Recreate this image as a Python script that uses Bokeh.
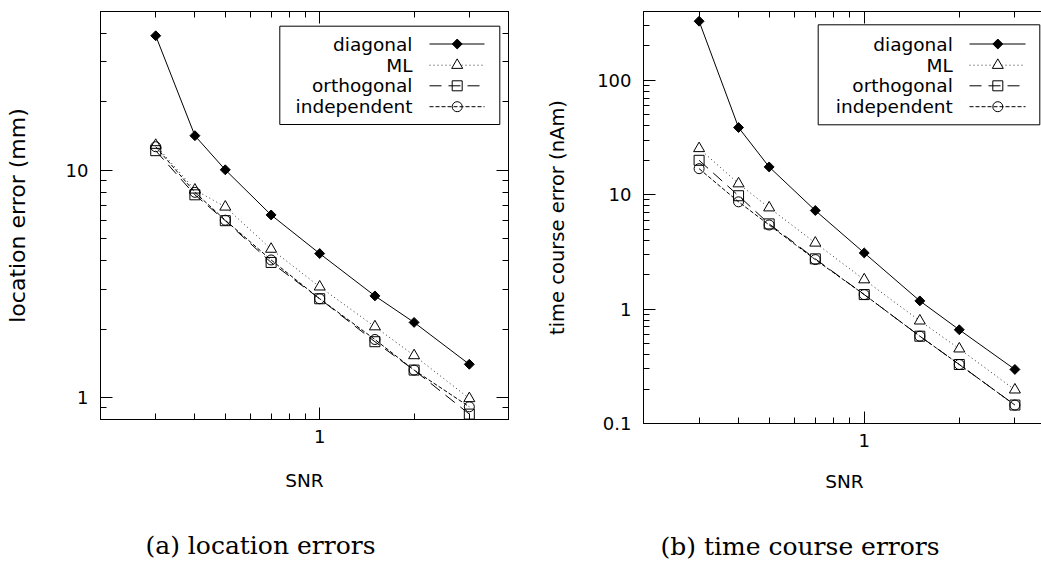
import numpy as np
from bokeh.plotting import figure
from bokeh.layouts import row
from bokeh.models import (FixedTicker, LogAxis, Range1d, LinearScale, Title,
                          CustomJSTickFormatter)
from bokeh.core.properties import value
from bokeh.embed import file_html
from bokeh.resources import INLINE

# ---------------- data ----------------
snr = [0.3, 0.4, 0.5, 0.7, 1.0, 1.5, 2.0, 3.0]
series_names = ["diagonal", "ML", "orthogonal", "independent"]

loc_diagonal = [39.1, 14.2, 10.05, 6.36, 4.30, 2.80, 2.14, 1.40]
loc_ml = [12.9, 8.2, 6.9, 4.5, 3.07, 2.05, 1.53, 0.99]
loc_orthogonal = [12.2, 7.8, 6.0, 3.93, 2.72, 1.76, 1.32, 0.845]
loc_independent = [12.7, 8.0, 6.03, 4.03, 2.72, 1.80, 1.32, 0.91]

tc_diagonal = [329.0, 38.7, 17.5, 7.28, 3.10, 1.18, 0.66, 0.297]
tc_ml = [25.4, 12.5, 7.7, 3.79, 1.81, 0.79, 0.45, 0.197]
tc_orthogonal = [20.0, 9.8, 5.56, 2.75, 1.34, 0.58, 0.328, 0.145]
tc_independent = [16.9, 8.67, 5.44, 2.71, 1.34, 0.58, 0.328, 0.145]

x_major = [1]
x_minor = [0.2, 0.3, 0.4, 0.5, 0.6, 0.7, 0.8, 0.9, 2, 3, 4]
loc_y_major = [1, 10]
loc_y_minor = [0.8, 0.9, 2, 3, 4, 5, 6, 7, 8, 9, 20, 30, 40, 50]
tc_y_major = [0.1, 1, 10, 100]
tc_y_minor = [0.2, 0.3, 0.4, 0.5, 0.6, 0.7, 0.8, 0.9, 2, 3, 4, 5, 6, 7, 8, 9,
              20, 30, 40, 50, 60, 70, 80, 90, 200, 300, 400]

x_label = "SNR"
loc_label = "location error (mm)"
tc_label = "time course error (nAm)"
caption_a = "(a) location errors"
caption_b = "(b) time course errors"

# ---------------- styles ----------------
FONT = "DejaVu Sans"
FS = "18px"
styles = {
    "diagonal": dict(dash="solid", marker="square", angle=np.pi / 4, size=7,
                     fill="black", lcolor="black"),
    "ML": dict(dash="1 3", marker="triangle", angle=0.0, size=11,
               fill="white", lcolor="#333333"),
    "orthogonal": dict(dash="12 7", marker="square", angle=0.0, size=10,
                       fill=None, lcolor="black"),
    "independent": dict(dash="4 2", marker="circle", angle=0.0, size=10,
                        fill=None, lcolor="black"),
}

fmt = CustomJSTickFormatter(code="return String(tick);")


def style_axis(ax):
    ax.axis_line_color = "black"
    ax.axis_line_width = 1
    ax.major_tick_in = 12
    ax.major_tick_out = 0
    ax.minor_tick_in = 6
    ax.minor_tick_out = 0
    ax.major_tick_line_color = "black"
    ax.minor_tick_line_color = "black"
    ax.major_label_text_font = FONT
    ax.major_label_text_color = "black"
    ax.major_label_text_font_size = FS
    ax.axis_label_text_font = FONT
    ax.axis_label_text_font_size = "18.5px"
    ax.axis_label_text_font_style = "normal"
    ax.axis_label_text_color = "black"


def hidden_axis(ticker):
    ax = LogAxis(ticker=ticker,
                 formatter=CustomJSTickFormatter(code="return '';"))
    style_axis(ax)
    ax.major_label_text_font_size = "1px"
    ax.major_label_standoff = 0
    return ax


def make_fig(ys, y_rng, y_major, y_minor, x_end, fw, fh, bl, br, bt, bb,
             ylabel, ylabel_size, y_label_standoff, x_label_standoff, leg,
             caption, cap_offset, cap_standoff, right_axis):
    p = figure(x_axis_type="log", y_axis_type="log",
               x_range=Range1d(0.2, x_end), y_range=Range1d(*y_rng),
               frame_width=fw, frame_height=fh,
               min_border_left=bl, min_border_right=br, min_border_top=bt,
               min_border_bottom=bb,
               output_backend="svg", toolbar_location=None)
    p.grid.visible = False
    p.background_fill_color = "white"
    p.border_fill_color = "white"
    p.outline_line_color = "black" if right_axis else None

    # pixel-like ranges for the hand-made (gnuplot style) key
    p.extra_x_ranges = {"key": Range1d(0, fw)}
    p.extra_y_ranges = {"key": Range1d(0, fh)}
    p.extra_x_scales = {"key": LinearScale()}
    p.extra_y_scales = {"key": LinearScale()}

    xt = FixedTicker(ticks=x_major, minor_ticks=x_minor)
    yt = FixedTicker(ticks=y_major, minor_ticks=y_minor)

    xa = p.xaxis[0]
    xa.ticker = xt
    xa.formatter = fmt
    xa.axis_label = x_label
    style_axis(xa)
    xa.major_label_standoff = 10
    xa.axis_label_standoff = x_label_standoff

    ya = p.yaxis[0]
    ya.ticker = yt
    ya.formatter = fmt
    ya.axis_label = ylabel
    style_axis(ya)
    ya.axis_label_text_font_size = ylabel_size
    ya.major_label_standoff = 12
    ya.axis_label_standoff = y_label_standoff

    p.add_layout(hidden_axis(xt), "above")
    if right_axis:
        p.add_layout(hidden_axis(yt), "right")

    for name, y in zip(series_names, ys):
        st = styles[name]
        p.line(snr, y, line_color=st["lcolor"], line_width=1,
               line_dash=st["dash"])
        p.scatter(snr, y, marker=st["marker"], size=st["size"],
                  angle=st["angle"], line_color="black", line_width=1,
                  fill_color=st["fill"])

    # key box
    p.quad(left=[leg["box"][0]], right=[leg["box"][1]], top=[leg["box"][2]],
           bottom=[leg["box"][3]], fill_color="white", line_color="black",
           line_width=1, x_range_name="key", y_range_name="key")
    for name, ry in zip(series_names, leg["rows"]):
        st = styles[name]
        p.segment(x0=[leg["line"][0]], x1=[leg["line"][1]], y0=[ry], y1=[ry],
                  line_color=st["lcolor"], line_width=1, line_dash=st["dash"],
                  x_range_name="key", y_range_name="key")
        p.scatter(x=[leg["mark"]], y=[ry], marker=st["marker"],
                  size=st["size"], angle=st["angle"], line_color="black",
                  line_width=1, fill_color=st["fill"] or "white",
                  fill_alpha=1.0 if st["fill"] else 0.0,
                  x_range_name="key", y_range_name="key")
        p.text(x=[leg["text"]], y=[ry], text=[name], text_align="right",
               text_baseline="middle", text_font=value(FONT),
               text_font_size="18.5px", text_color="black",
               x_range_name="key", y_range_name="key")

    p.add_layout(Title(text=caption, align="left", offset=cap_offset,
                       text_font="DejaVu Serif", text_font_size="25px",
                       text_font_style="normal", text_color="black",
                       standoff=cap_standoff, vertical_align="bottom"),
                 "below")
    return p


# left panel: frame abs x 100..508, y 11..419
fb1 = 419
rows_abs = [43.5, 64.7, 85.3, 106.2]
leg1 = dict(box=(179.3, 399.3, fb1 - 25.7, fb1 - 124), text=312,
            line=(329, 384), mark=356.7, rows=[fb1 - r for r in rows_abs])
p1 = make_fig([loc_diagonal, loc_ml, loc_orthogonal, loc_independent],
              (0.8, 50), loc_y_major, loc_y_minor, 4.0,
              408, 408, 100, 35, 11, 141, loc_label, "22px", 33, 24,
              leg1, caption_a, 45, 70, True)

# right panel: frame abs x 638..1040, y 11..423
fb2 = 423
leg2 = dict(box=(174.7, 396.3, fb2 - 24.3, fb2 - 124.3), text=309.3,
            line=(326, 382), mark=354.3, rows=[fb2 - r for r in rows_abs])
p2 = make_fig([tc_diagonal, tc_ml, tc_orthogonal, tc_independent],
              (0.1, 400), tc_y_major, tc_y_minor, 3.75,
              402, 412, 95, 0, 11, 137, tc_label, "19.5px", 25, 21,
              leg2, caption_b, 17, 70, False)

layout = row(p1, p2)
open("out.html", "w").write(file_html(layout, INLINE))
